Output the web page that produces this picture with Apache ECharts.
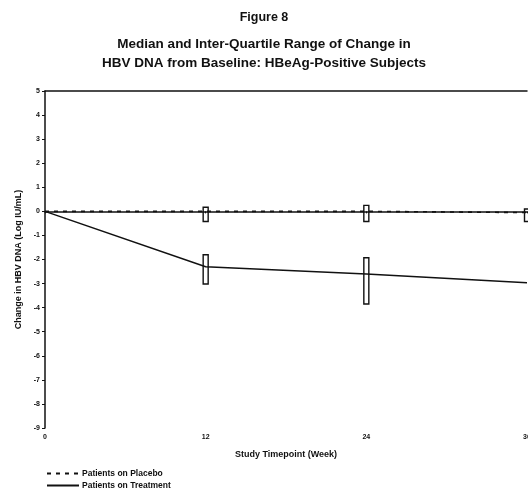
<!DOCTYPE html>
<html>
<head>
<meta charset="utf-8">
<script src="https://cdn.jsdelivr.net/npm/echarts@6/dist/echarts.min.js"></script>
<style>
  html, body { margin: 0; padding: 0; background: #fff; }
  #chart { width: 528px; height: 496px; }
</style>
</head>
<body>
<div id="chart"></div>
<script>
// Study weeks
const weeks = [0, 12, 24, 36];
// Median change from baseline (log IU/mL)
const placeboMedian = [0, 0, 0, -0.05];
const treatmentMedian = [0, -2.3, -2.6, -2.97];
// Inter-quartile ranges [week, Q1, Q3]
const placeboIQR = [[12, -0.42, 0.17], [24, -0.42, 0.25], [36, -0.42, 0.1]];
const treatmentIQR = [[12, -3.02, -1.8], [24, -3.85, -1.93]];
// Axis ticks
const yTicks = [-9, 5];
const xTicks = [0, 36];

const FONT = '"Liberation Sans", Arial, Helvetica, sans-serif';
const INK = '#111';

function boxRender(params, api) {
  const x = api.value(0);
  const lo = api.coord([x, api.value(1)]);
  const hi = api.coord([x, api.value(2)]);
  const w = 5;
  return {
    type: 'rect',
    shape: { x: lo[0] - w / 2, y: hi[1], width: w, height: lo[1] - hi[1] },
    style: { fill: 'rgba(0,0,0,0)', stroke: INK, lineWidth: 1.4 }
  };
}

const chart = echarts.init(document.getElementById('chart'), null, { renderer: 'canvas' });
chart.setOption({
  animation: false,
  backgroundColor: '#fff',
  title: [
    { text: 'Figure 8', left: 'center', top: 6,
      textStyle: { fontFamily: FONT, fontWeight: 'bold', fontSize: 12.5, color: INK } },
    { text: 'Median and Inter-Quartile Range of Change in\nHBV DNA from Baseline: HBeAg-Positive Subjects',
      left: 'center', top: 30,
      textStyle: { fontFamily: FONT, fontWeight: 'bold', fontSize: 13.5, lineHeight: 19, color: INK } }
  ],
  legend: {
    orient: 'vertical', left: 46, top: 469, itemGap: 3, itemWidth: 32, itemHeight: 9, padding: 0,
    itemStyle: { opacity: 0 },
    textStyle: { fontFamily: FONT, fontWeight: 'bold', fontSize: 8.5, color: INK, padding: [0, 0, 0, -2] },
    data: ['Patients on Placebo', 'Patients on Treatment']
  },
  grid: { left: 45, right: 1, top: 91, bottom: 68, outerBoundsMode: 'none', containLabel: false },
  xAxis: [{
    type: 'value', min: xTicks[0], max: xTicks[1], interval: 12,
    name: 'Study Timepoint (Week)', nameLocation: 'middle', nameGap: 22,
    nameTextStyle: { fontFamily: FONT, fontWeight: 'bold', fontSize: 9, color: INK },
    axisLine: { lineStyle: { color: INK, width: 1.5 } },
    axisTick: { show: true, length: 2, lineStyle: { color: INK } },
    axisLabel: { fontFamily: FONT, fontWeight: 'bold', fontSize: 7, color: INK, margin: 6 },
    splitLine: { show: false }
  }, {
    type: 'value', position: 'top', min: xTicks[0], max: xTicks[1],
    axisLine: { show: true, lineStyle: { color: INK, width: 1.5 } },
    axisTick: { show: false }, axisLabel: { show: false }, splitLine: { show: false }
  }],
  yAxis: {
    type: 'value', min: yTicks[0], max: yTicks[1], interval: 1,
    name: 'Change in HBV DNA (Log IU/mL)', nameLocation: 'middle', nameGap: 22,
    nameTextStyle: { fontFamily: FONT, fontWeight: 'bold', fontSize: 9, color: INK },
    axisLine: { show: true, lineStyle: { color: INK, width: 1.5 } },
    axisTick: { show: true, length: 3, lineStyle: { color: INK } },
    axisLabel: { fontFamily: FONT, fontWeight: 'bold', fontSize: 7, color: INK, margin: 5 },
    splitLine: { show: false }
  },
  series: [
    {
      name: 'Patients on Placebo', type: 'line', symbol: 'none',
      data: weeks.map((w, i) => [w, placeboMedian[i]]),
      lineStyle: { color: INK, width: 1.6, type: [4, 5] },
      itemStyle: { color: INK }
    },
    {
      name: 'Patients on Treatment', type: 'line', symbol: 'none',
      data: weeks.map((w, i) => [w, treatmentMedian[i]]),
      lineStyle: { color: INK, width: 1.5 },
      itemStyle: { color: INK }
    },
    {
      type: 'custom', renderItem: boxRender, data: placeboIQR, z: 3,
      encode: { x: 0, y: [1, 2] }
    },
    {
      type: 'custom', renderItem: boxRender, data: treatmentIQR, z: 3,
      encode: { x: 0, y: [1, 2] }
    }
  ]
});
</script>
</body>
</html>
